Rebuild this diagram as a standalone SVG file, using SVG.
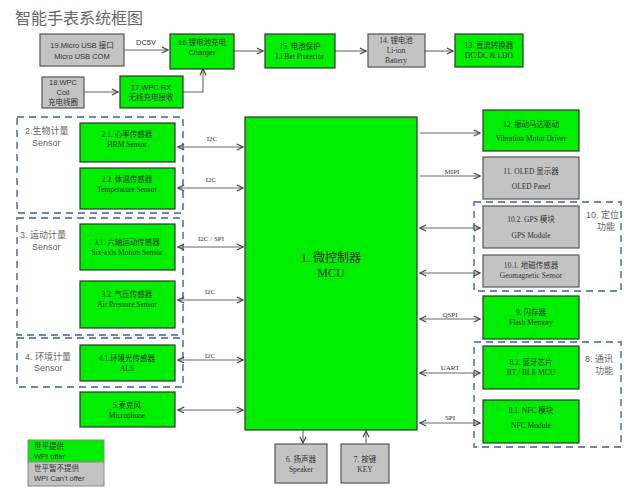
<svg xmlns="http://www.w3.org/2000/svg" width="635" height="491" viewBox="0 0 635 491">
<defs>
<marker id="ar" viewBox="0 0 10 10" refX="9" refY="5" markerWidth="7" markerHeight="7" orient="auto-start-reverse"><path d="M1,1 L9,5 L1,9" fill="none" stroke="#444" stroke-width="1.5"/></marker>
<style>
.g{fill:#00ee00;stroke:#333;stroke-width:1.2}
.s{fill:#c3c3c3;stroke:#555;stroke-width:1.2}
.t{font-family:"Liberation Serif","Noto Sans CJK SC",serif;font-size:7.5px;fill:#333;text-anchor:middle}
.a{font-family:"Liberation Sans","Noto Sans CJK SC",sans-serif;font-size:7.5px;fill:#333;text-anchor:middle}
.l{font-family:"Liberation Serif",serif;font-size:7px;fill:#333;text-anchor:middle}
.c{fill:none;stroke:#666;stroke-width:1.1}
.d{fill:none;stroke:#6a88b0;stroke-width:1.8;stroke-dasharray:7,5}
.gl{font-family:"Liberation Sans","Noto Sans CJK SC",sans-serif;font-size:9px;fill:#666}
.lg{font-family:"Liberation Sans","Noto Sans CJK SC",sans-serif;font-size:7.5px;fill:#333}
</style>
</defs>
<rect width="635" height="491" fill="#fff"/>
<text x="15" y="24" font-family="Liberation Sans,Noto Sans CJK SC,sans-serif" font-size="16" fill="#666">智能手表系统框图</text>

<g id="groups">
<rect class="d" x="17" y="117" width="166" height="96"/>
<text class="gl" x="25" y="134">2.生物计量</text><text class="gl" x="32" y="146">Sensor</text>
<rect class="d" x="17" y="218" width="166" height="117"/>
<text class="gl" x="20" y="238">3. 运动计量</text><text class="gl" x="32" y="250">Sensor</text>
<rect class="d" x="17" y="338" width="166" height="49"/>
<text class="gl" x="25" y="360">4. 环境计量</text><text class="gl" x="34" y="371">Sensor</text>
<rect class="d" x="474" y="202" width="147" height="89"/>
<text class="gl" x="586" y="218">10. 定位</text><text class="gl" x="597" y="230">功能</text>
<rect class="d" x="474" y="342" width="147" height="105"/>
<text class="gl" x="585" y="362">8. 通讯</text><text class="gl" x="595" y="374">功能</text>
</g>

<g id="connectors">
<path class="c" d="M124,50 H168" marker-end="url(#ar)"/><text class="a" x="146" y="45">DC5V</text>
<path class="c" d="M234,51 H263" marker-end="url(#ar)"/>
<path class="c" d="M335,51 H366" marker-end="url(#ar)"/>
<path class="c" d="M425,51 H453" marker-end="url(#ar)"/>
<path class="c" d="M84,92 H118" marker-end="url(#ar)"/>
<path class="c" d="M183,92 H203 V69" marker-end="url(#ar)"/>
<path class="c" d="M178,147 H243" marker-start="url(#ar)" marker-end="url(#ar)"/><text class="l" x="212" y="141">I2C</text>
<path class="c" d="M178,188 H243" marker-start="url(#ar)" marker-end="url(#ar)"/><text class="l" x="211" y="182">I2C</text>
<path class="c" d="M178,247 H243" marker-start="url(#ar)" marker-end="url(#ar)"/><text class="l" x="211" y="241">I2C / SPI</text>
<path class="c" d="M178,300 H243" marker-start="url(#ar)" marker-end="url(#ar)"/><text class="l" x="210" y="294">I2C</text>
<path class="c" d="M178,360 H243" marker-start="url(#ar)" marker-end="url(#ar)"/><text class="l" x="210" y="358">I2C</text>
<path class="c" d="M178,410 H243" marker-start="url(#ar)" marker-end="url(#ar)"/>
<path class="c" d="M420,133 H480" marker-end="url(#ar)"/>
<path class="c" d="M420,176 H480" marker-end="url(#ar)"/><text class="l" x="452" y="174">MIPI</text>
<path class="c" d="M420,228 H480" marker-start="url(#ar)" marker-end="url(#ar)"/>
<path class="c" d="M420,273 H480" marker-start="url(#ar)" marker-end="url(#ar)"/>
<path class="c" d="M420,319 H480" marker-start="url(#ar)" marker-end="url(#ar)"/><text class="l" x="450" y="317">QSPI</text>
<path class="c" d="M420,373 H480" marker-start="url(#ar)" marker-end="url(#ar)"/><text class="l" x="450" y="370">UART</text>
<path class="c" d="M420,423 H480" marker-start="url(#ar)" marker-end="url(#ar)"/><text class="l" x="450" y="420">SPI</text>
<path class="c" d="M303,430 V443" marker-end="url(#ar)"/>
<path class="c" d="M366,443 V431" marker-end="url(#ar)"/>
</g>

<g id="n19"><rect class="s" x="40" y="34" width="84" height="32"/><text class="a" x="82" y="48">19.Micro USB 接口</text><text class="a" x="82" y="59">Micro USB COM</text></g>
<g id="n16"><rect class="g" x="170" y="34" width="64" height="35"/><text class="a" x="202" y="45">16.锂电池充电</text><text class="a" x="202" y="55">Charger</text></g>
<g id="n15"><rect class="g" x="265" y="34" width="70" height="34"/><text class="t" x="300" y="49">15. 电池保护</text><text class="t" x="300" y="59">Li Bat Protector</text></g>
<g id="n14"><rect class="s" x="368" y="34" width="57" height="33"/><text class="t" x="396" y="43">14. 锂电池</text><text class="t" x="396" y="53">Li-ion</text><text class="t" x="396" y="63">Battery</text></g>
<g id="n13"><rect class="g" x="455" y="34" width="68" height="33"/><text class="t" x="489" y="48">13. 直流转换器</text><text class="t" x="489" y="58">DC/DC &amp; LDO</text></g>
<g id="n18"><rect class="s" x="42" y="77" width="42" height="31"/><text class="a" x="63" y="85">18.WPC</text><text class="a" x="63" y="95">Coil</text><text class="a" x="63" y="105">充电线圈</text></g>
<g id="n17"><rect class="g" x="120" y="76" width="63" height="32"/><text class="a" x="151" y="90">17.WPC RX</text><text class="a" x="151" y="100">无线充电接收</text></g>

<g id="n1"><rect class="g" x="245" y="117" width="172" height="313"/><text x="331" y="262" text-anchor="middle" font-family="Liberation Serif,Noto Sans CJK SC,serif" font-size="12" fill="#333">1. 微控制器</text><text x="331" y="277" text-anchor="middle" font-family="Liberation Serif,serif" font-size="12" fill="#333">MCU</text></g>

<g id="n21"><rect class="g" x="80" y="123" width="95" height="39"/><text class="t" x="127" y="137">2.1. 心率传感器</text><text class="t" x="127" y="147">HRM Sensor</text></g>
<g id="n22"><rect class="g" x="80" y="168" width="95" height="41"/><text class="t" x="127" y="182">2.2. 体温传感器</text><text class="t" x="127" y="192">Temperature Sensor</text></g>
<g id="n31"><rect class="g" x="80" y="224" width="95" height="46"/><text class="t" x="127" y="245">3.1. 六轴运动传感器</text><text class="t" x="127" y="255">Six-axis Motion Sensor</text></g>
<g id="n32"><rect class="g" x="80" y="281" width="95" height="47"/><text class="t" x="127" y="297">3.2. 气压传感器</text><text class="t" x="127" y="307">Air Pressure Sensor</text></g>
<g id="n41"><rect class="g" x="80" y="345" width="95" height="36"/><text class="t" x="127" y="361">4.1.环境光传感器</text><text class="t" x="127" y="371">ALS</text></g>
<g id="n5"><rect class="g" x="80" y="392" width="95" height="35"/><text class="t" x="127" y="408">5.麦克风</text><text class="t" x="127" y="418">Microphone</text></g>

<g id="n12"><rect class="g" x="483" y="110" width="96" height="41"/><text class="t" x="531" y="127">12. 振动马达驱动</text><text class="t" x="531" y="141">Vibration Motor Driver</text></g>
<g id="n11"><rect class="s" x="483" y="157" width="96" height="42"/><text class="t" x="531" y="174">11. OLED 显示器</text><text class="t" x="531" y="189">OLED Panel</text></g>
<g id="n102"><rect class="s" x="483" y="206" width="96" height="42"/><text class="t" x="531" y="222">10.2. GPS 模块</text><text class="t" x="531" y="238">GPS Module</text></g>
<g id="n101"><rect class="s" x="483" y="255" width="96" height="32"/><text class="t" x="531" y="268">10.1. 地磁传感器</text><text class="t" x="531" y="278">Geomagnetic Sensor</text></g>
<g id="n9"><rect class="g" x="483" y="296" width="96" height="43"/><text class="t" x="531" y="315">9. 闪存器</text><text class="t" x="531" y="325">Flash Memory</text></g>
<g id="n82"><rect class="g" x="483" y="346" width="96" height="43"/><text class="t" x="531" y="365">8.2. 蓝牙芯片</text><text class="t" x="531" y="375">BT / BLE MCU</text></g>
<g id="n81"><rect class="g" x="483" y="400" width="96" height="43"/><text class="t" x="531" y="413">8.1. NFC 模块</text><text class="t" x="531" y="428">NFC Module</text></g>

<g id="n6"><rect class="s" x="275" y="444" width="52" height="39"/><text class="t" x="301" y="462">6. 扬声器</text><text class="t" x="301" y="472">Speaker</text></g>
<g id="n7"><rect class="s" x="341" y="444" width="48" height="39"/><text class="t" x="365" y="462">7. 按键</text><text class="t" x="365" y="472">KEY</text></g>

<g id="legend">
<rect x="28" y="440" width="76" height="22" fill="#00ee00" stroke="#888"/>
<rect x="28" y="462" width="76" height="24" fill="#c3c3c3" stroke="#888"/>
<text class="lg" x="34" y="449">世平提供</text><text class="lg" x="34" y="459">WPI offer</text>
<text class="lg" x="34" y="471">世平暂不提供</text><text class="lg" x="34" y="481">WPI Can't offer</text>
</g>
</svg>
